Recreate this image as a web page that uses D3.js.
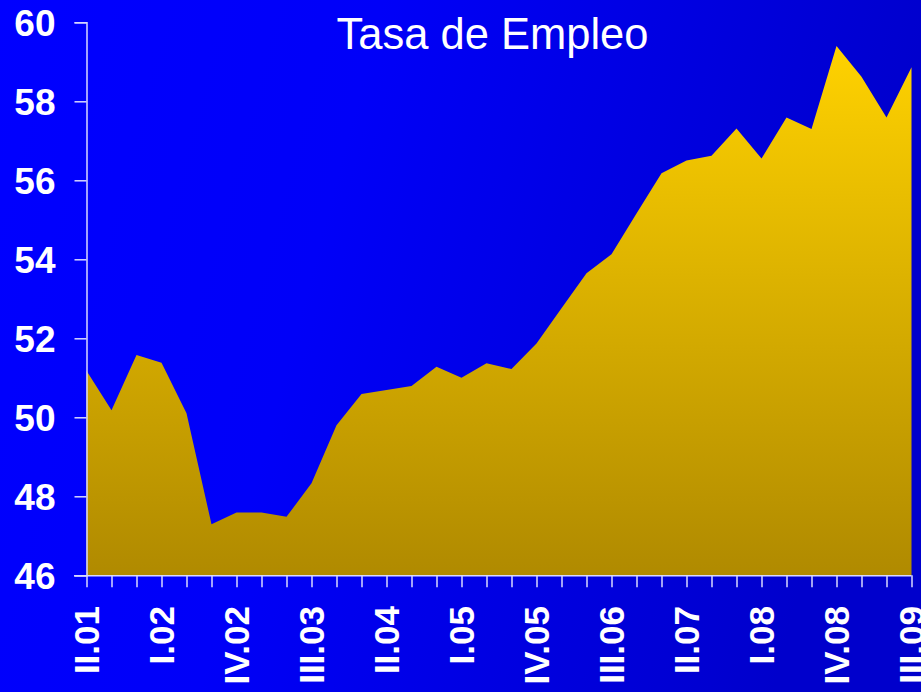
<!DOCTYPE html>
<html>
<head>
<meta charset="utf-8">
<script src="https://cdn.jsdelivr.net/npm/d3@7"></script>
<style>
html, body { margin: 0; padding: 0; background: #0000ff; }
svg { display: block; }
</style>
</head>
<body>
<svg id="chart" width="921" height="692"></svg>
<script>
const title = "Tasa de Empleo";
const quarters = [
  "II.01","III.01","IV.01",
  "I.02","II.02","III.02","IV.02",
  "I.03","II.03","III.03","IV.03",
  "I.04","II.04","III.04","IV.04",
  "I.05","II.05","III.05","IV.05",
  "I.06","II.06","III.06","IV.06",
  "I.07","II.07","III.07","IV.07",
  "I.08","II.08","III.08","IV.08",
  "I.09","II.09","III.09"
];
const tasaEmpleo = [
  51.18, 50.18, 51.58,
  51.38, 50.10, 47.29, 47.59,
  47.59, 47.48, 48.33, 49.80,
  50.59, 50.69, 50.79, 51.28,
  51.00, 51.37, 51.22, 51.87,
  52.76, 53.65, 54.13, 55.16,
  56.18, 56.50, 56.62, 57.31,
  56.55, 57.59, 57.30, 59.40,
  58.62, 57.59, 58.86
];
const yTicks = [46, 48, 50, 52, 54, 56, 58, 60];
const xLabelEvery = 3;

const svg = d3.select("#chart");
const W = 921, H = 692;
const defs = svg.append("defs");

const bg = defs.append("linearGradient").attr("id", "bg")
  .attr("x1", "0").attr("y1", "0").attr("x2", "1").attr("y2", "0.2");
bg.append("stop").attr("offset", "0%").attr("stop-color", "#0000ff");
bg.append("stop").attr("offset", "40%").attr("stop-color", "#0000f8");
bg.append("stop").attr("offset", "100%").attr("stop-color", "#0000cc");
svg.append("rect").attr("width", W).attr("height", H).attr("fill", "url(#bg)");

const x = d3.scalePoint().domain(quarters).range([86.5, 911.5]);
const y = d3.scaleLinear().domain([46, 60]).range([575.3, 22.3]);

const ag = defs.append("linearGradient").attr("id", "areaGrad")
  .attr("gradientUnits", "userSpaceOnUse")
  .attr("x1", 0).attr("x2", 0)
  .attr("y1", y(d3.max(tasaEmpleo))).attr("y2", y(46));
ag.append("stop").attr("offset", "0%").attr("stop-color", "#ffd200");
ag.append("stop").attr("offset", "100%").attr("stop-color", "#b08a00");

const data = quarters.map((q, i) => ({ q, v: tasaEmpleo[i] }));
const area = d3.area()
  .x(d => x(d.q))
  .y0(y(46))
  .y1(d => y(d.v));
svg.append("path").datum(data).attr("d", area).attr("fill", "url(#areaGrad)");

// Title
svg.append("text")
  .attr("x", 492.5).attr("y", 49)
  .attr("text-anchor", "middle")
  .attr("font-family", "Liberation Sans, Arial, sans-serif")
  .attr("font-size", 43.5)
  .attr("fill", "#ffffff")
  .text(title);

const axisColor = "#d8d8ff";

// Y axis
const yAxis = d3.axisLeft(y).tickValues(yTicks).tickSize(12).tickPadding(19).tickFormat(d3.format("d"));
const gy = svg.append("g").attr("transform", "translate(86.5,0)").call(yAxis);
gy.select(".domain").attr("stroke", axisColor).attr("stroke-width", 1.5);
gy.selectAll(".tick line").attr("stroke", axisColor).attr("stroke-width", 1.5);
gy.selectAll(".tick text")
  .attr("fill", "#ffffff")
  .attr("font-family", "Liberation Sans, Arial, sans-serif")
  .attr("font-weight", "bold")
  .attr("font-size", 37)
  .attr("x", -31)
  .attr("dy", "0.36em");

// X axis
const xAxis = d3.axisBottom(x).tickSize(12).tickSizeOuter(0).tickFormat(() => "");
const gx = svg.append("g").attr("transform", "translate(0,575.3)").call(xAxis);
gx.select(".domain").attr("stroke", axisColor).attr("stroke-width", 1.5)
  .attr("d", "M74,0.5H" + x(quarters[quarters.length - 1]));
gx.selectAll(".tick line").attr("stroke", axisColor).attr("stroke-width", 1.5);

// X labels (every 3rd quarter), rotated
svg.append("g").selectAll("text")
  .data(quarters.filter((q, i) => i % xLabelEvery === 0))
  .join("text")
  .attr("transform", d => `translate(${x(d)},606) rotate(-90)`)
  .attr("text-anchor", "end")
  .attr("dy", "0.36em")
  .attr("fill", "#ffffff")
  .attr("font-family", "Liberation Sans, Arial, sans-serif")
  .attr("font-weight", "bold")
  .attr("font-size", 35)
  .text(d => d);
</script>
</body>
</html>
